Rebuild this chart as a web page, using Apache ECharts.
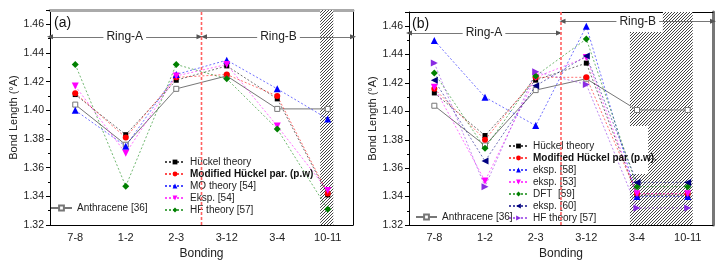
<!DOCTYPE html>
<html>
<head>
<meta charset="utf-8">
<script src="https://cdn.jsdelivr.net/npm/echarts@6/dist/echarts.min.js"></script>
<style>
html, body { margin: 0; padding: 0; background: #fff; }
#main { width: 725px; height: 265px; }
</style>
</head>
<body>
<div id="main"></div>
<script>
// categories
const bondings = ['7-8', '1-2', '2-3', '3-12', '3-4', '10-11'];

// panel (a)
const aHuckel = [1.411, 1.383, 1.421, 1.431, 1.408, 1.341];
const aModified = [1.412, 1.381, 1.423, 1.425, 1.410, 1.342];
const aMO = [1.400, 1.375, 1.425, 1.435, 1.415, 1.394];
const aEksp = [1.417, 1.370, 1.424, 1.432, 1.389, 1.344];
const aHF = [1.432, 1.347, 1.432, 1.422, 1.387, 1.331];
const aAnthracene = [1.404, 1.376, 1.415, 1.424, 1.401, 1.401];

// panel (b)
const bHuckel = [1.413, 1.383, 1.422, 1.434, 1.341, 1.341];
const bModified = [1.416, 1.380, 1.424, 1.424, 1.342, 1.342];
const bEksp58 = [1.450, 1.410, 1.390, 1.460, 1.340, 1.340];
const bEksp53 = [1.417, 1.351, 1.424, 1.438, 1.342, 1.342];
const bDFT = [1.427, 1.374, 1.425, 1.451, 1.347, 1.347];
const bEksp60 = [1.422, 1.365, 1.418, 1.439, 1.350, 1.350];
const bHF = [1.434, 1.347, 1.428, 1.419, 1.332, 1.332];
const bAnthracene = [1.404, 1.376, 1.415, 1.423, 1.401, 1.401];

const yMin = 1.32, yMax = 1.47;
const FONT = 'Liberation Sans, Arial, sans-serif';

// hatch pattern, thin /// lines
function hatch() {
    let c = document.createElement('canvas');
    c.width = 3; c.height = 3;
    let ctx = c.getContext('2d');
    ctx.fillStyle = '#fff';
    ctx.fillRect(0, 0, 3, 3);
    ctx.fillStyle = '#444';
    ctx.fillRect(2, 0, 1, 1);
    ctx.fillRect(1, 1, 1, 1);
    ctx.fillRect(0, 2, 1, 1);
    return { image: c, repeat: 'repeat' };
}
const hatchFill = hatch();

function line(name, data, color, symbol, size, rot, xi, yi) {
    return {
        type: 'line', name: name, data: data,
        xAxisIndex: xi, yAxisIndex: yi,
        symbol: symbol, symbolSize: size, symbolRotate: rot,
        itemStyle: { color: color },
        lineStyle: { color: color, width: 0.8, type: [2, 2], opacity: 0.7 },
        z: 3
    };
}
function anth(data, xi, yi) {
    return {
        type: 'line', name: 'Anthracene [36]', data: data,
        xAxisIndex: xi, yAxisIndex: yi,
        symbol: 'rect', symbolSize: 5,
        itemStyle: { color: '#fff', borderColor: '#777', borderWidth: 1 },
        lineStyle: { color: '#777', width: 1 },
        z: 2
    };
}
function arrow(x1, x2, y, text) {
    return [{ coord: [x1, y], label: { formatter: text } }, { coord: [x2, y] }];
}
function annot(xi, yi, areas, arrows) {
    return {
        type: 'line', data: [], xAxisIndex: xi, yAxisIndex: yi, z: 1,
        markArea: {
            silent: true,
            itemStyle: { color: hatchFill, opacity: 1 },
            data: areas
        },
        markLine: {
            silent: true,
            symbol: ['triangle', 'triangle'], symbolSize: [5, 6],
            lineStyle: { color: '#555', type: 'solid', width: 0.8 },
            itemStyle: { color: '#111' },
            label: {
                show: true, position: 'middle', distance: 0, verticalAlign: 'middle',
                color: '#222', fontSize: 12, fontFamily: FONT,
                backgroundColor: '#fff', padding: [1, 3]
            },
            data: arrows
        }
    };
}
// red boundary between ring A and ring B (x = 3 on the helper axis)
function divider(xi, yi) {
    return {
        type: 'line', xAxisIndex: xi, yAxisIndex: yi, z: 10,
        data: [[3, yMin], [3, yMax]],
        symbol: 'none', silent: true,
        lineStyle: { color: '#ff6060', type: [3, 2], width: 1.6, opacity: 1 }
    };
}

function catAxis(gi) {
    return {
        type: 'category', gridIndex: gi, data: bondings, boundaryGap: true,
        name: 'Bonding', nameLocation: 'middle', nameGap: 23,
        nameTextStyle: { fontSize: 12, color: '#222', fontFamily: FONT },
        axisLine: { lineStyle: { color: '#000', width: 1 } },
        axisTick: { inside: true, length: 3, lineStyle: { color: '#000' } },
        axisLabel: { fontSize: 11, color: '#222', margin: 7, fontFamily: FONT },
        axisPointer: { show: false },
        splitLine: { show: false }
    };
}
function topAxis(gi, color, width) {
    return {
        type: 'value', gridIndex: gi, position: 'top', min: 0, max: 6,
        axisLine: { show: true, onZero: false, lineStyle: { color: color, width: width } },
        axisTick: { show: false }, axisLabel: { show: false }, splitLine: { show: false },
        minorSplitLine: { show: false }
    };
}
function valAxis(gi) {
    return {
        type: 'value', gridIndex: gi, min: yMin, max: yMax, interval: 0.02,
        name: 'Bond Length (°A)', nameLocation: 'middle', nameGap: 25,
        nameTextStyle: { fontSize: 11, color: '#222', fontFamily: FONT },
        axisLine: { show: true, onZero: false, lineStyle: { color: '#000', width: 1 } },
        axisTick: { show: true, length: 4, lineStyle: { color: '#000' } },
        minorTick: { show: true, splitNumber: 2, length: 2, lineStyle: { color: '#000' } },
        axisLabel: {
            fontSize: 10.5, color: '#222', margin: 6, fontFamily: FONT,
            formatter: v => v > 1.465 ? '' : v.toFixed(2)
        },
        splitLine: { show: false }
    };
}
function rightAxis(gi, color, width) {
    return {
        type: 'value', gridIndex: gi, position: 'right', min: yMin, max: yMax,
        axisLine: { show: true, onZero: false, lineStyle: { color: color, width: width } },
        axisTick: { show: false }, axisLabel: { show: false }, splitLine: { show: false }
    };
}

const legendFmt = name => {
    let n = name.replace(/^b:/, '');
    return n.indexOf('Modified') === 0 ? '{b|' + n + '}' : n;
};
function legend(left, top, names, w) {
    return {
        left: left, top: top, orient: 'vertical', selectedMode: false,
        itemWidth: w, itemHeight: 6, itemGap: 0, padding: 0,
        data: names, formatter: legendFmt,
        textStyle: {
            fontSize: 10, lineHeight: 12, color: '#222', fontFamily: FONT,
            rich: { b: { fontSize: 10, lineHeight: 12, fontWeight: 'bold', fontFamily: FONT, color: '#111' } }
        }
    };
}

const aNames = ['Hückel theory', 'Modified Hückel par. (p.w)', 'MO theory [54]', 'Eksp. [54]', 'HF theory [57]'];
const bNames = ['b:Hückel theory', 'b:Modified Hückel par (p.w).', 'b:eksp. [58]', 'b:eksp. [53]', 'b:DFT  [59]', 'b:eksp. [60]', 'b:HF theory [57]'];

let chart = echarts.init(document.getElementById('main'));
chart.setOption({
    backgroundColor: '#fff',
    animation: false,
    textStyle: { fontFamily: FONT },
    title: [
        { text: '(a)', left: 54, top: 16, padding: 0, textStyle: { fontSize: 14, fontWeight: 'normal', color: '#111', fontFamily: FONT } },
        { text: '(b)', left: 412, top: 17, padding: 0, textStyle: { fontSize: 14, fontWeight: 'normal', color: '#111', fontFamily: FONT } }
    ],
    grid: [
        { left: 50, right: 372, top: 10, bottom: 39 },
        { left: 409, right: 12, top: 12, bottom: 38 }
    ],
    xAxis: [catAxis(0), topAxis(0, '#aaa', 3), catAxis(1), topAxis(1, '#000', 1)],
    yAxis: [valAxis(0), rightAxis(0, '#000', 1), valAxis(1), rightAxis(1, '#777', 3)],
    legend: [
        legend(164, 156, aNames, 20),
        legend(50, 202, ['Anthracene [36]'], 21),
        legend(508, 140, bNames, 19),
        legend(415, 211, ['Anthracene [36]'], 21)
    ],
    series: [
        annot(1, 0,
            [[{ coord: [5.35, yMin] }, { coord: [5.61, yMax] }]],
            [arrow(0, 2.96, 1.4513, 'Ring-A'), arrow(3.05, 6, 1.4513, 'Ring-B')]),
        annot(3, 2,
            [[{ coord: [5.01, yMin] }, { coord: [5.60, yMax] }],
             [{ coord: [4.72, yMin] }, { coord: [5.01, 1.456] }],
             [{ coord: [4.36, 1.3897] }, { coord: [4.72, 1.456] }],
             [{ coord: [4.36, yMin] }, { coord: [4.72, 1.356] }]],
            [arrow(0, 2.96, 1.4552, 'Ring-A'), arrow(3.03, 6, 1.4634, 'Ring-B')]),
        divider(1, 0),
        divider(3, 2),

        anth(aAnthracene, 0, 0),
        line(aNames[0], aHuckel, '#000', 'rect', 5, 0, 0, 0),
        line(aNames[1], aModified, '#ff0000', 'circle', 6, 0, 0, 0),
        line(aNames[2], aMO, '#0000ff', 'triangle', 7, 0, 0, 0),
        line(aNames[3], aEksp, '#ff00ff', 'triangle', 7, 180, 0, 0),
        line(aNames[4], aHF, '#008000', 'diamond', 7, 0, 0, 0),

        anth(bAnthracene, 2, 2),
        line(bNames[0], bHuckel, '#000', 'rect', 5, 0, 2, 2),
        line(bNames[1], bModified, '#ff0000', 'circle', 6, 0, 2, 2),
        line(bNames[2], bEksp58, '#0000ff', 'triangle', 7, 0, 2, 2),
        line(bNames[3], bEksp53, '#ff00ff', 'triangle', 7, 180, 2, 2),
        line(bNames[4], bDFT, '#008000', 'diamond', 7, 0, 2, 2),
        line(bNames[5], bEksp60, '#000080', 'triangle', 7, 90, 2, 2),
        line(bNames[6], bHF, '#8a2be2', 'triangle', 7, -90, 2, 2)
    ]
});
</script>
</body>
</html>
